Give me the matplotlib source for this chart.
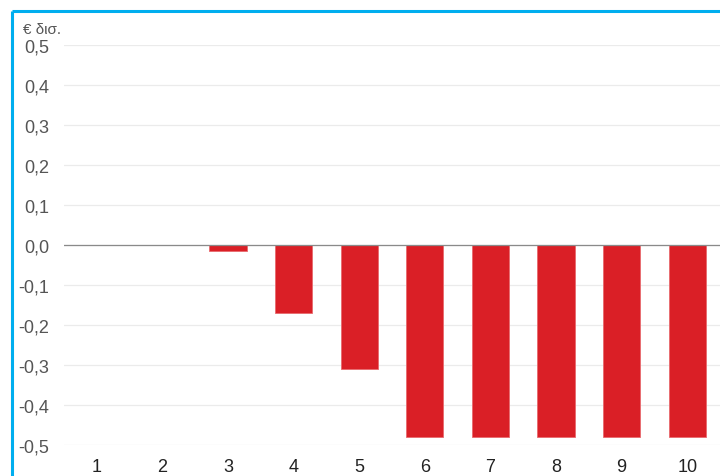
import matplotlib
matplotlib.use("Agg")
import matplotlib.pyplot as plt
from matplotlib.lines import Line2D

categories = ["1", "2", "3", "4", "5", "6", "7", "8", "9", "10"]
values = [0.0, 0.0, -0.015, -0.17, -0.31, -0.48, -0.48, -0.48, -0.48, -0.48]
yticks = [0.5, 0.4, 0.3, 0.2, 0.1, 0.0, -0.1, -0.2, -0.3, -0.4, -0.5]
ylabel = "€ δισ."

plt.rcParams['font.family'] = ['Liberation Sans', 'DejaVu Sans']

fig = plt.figure(figsize=(7.2, 4.77), dpi=100)
ax = fig.add_axes([64/720, 1 - 446/477, 1 - 64/720, 400/477])

x = list(range(len(categories)))
ax.bar(x, values, width=0.57, color="#DA1F26", edgecolor="#E86A6E", linewidth=0.6, zorder=3)

ax.set_xlim(-0.5, len(categories) - 0.5)
ax.set_ylim(-0.5, 0.5)
ax.set_yticks(yticks)
ax.set_yticklabels([("%.1f" % v).replace(".", ",") for v in yticks])
ax.set_xticks(x)
ax.set_xticklabels(categories)
ax.grid(axis="y", color="#ebebeb", linewidth=0.9, zorder=0)
ax.axhline(0, color="#8a8a8a", linewidth=0.9, zorder=4)
for s in ax.spines.values():
    s.set_visible(False)
ax.tick_params(axis="y", length=0, pad=10.5, labelsize=13, labelcolor="#555555")
ax.tick_params(axis="x", length=0, pad=9.5, labelsize=13, labelcolor="#222222")

fig.text(23/720, 1 - 30/477, ylabel, fontsize=11, color="#555555", ha="left", va="center")

fig.add_artist(Line2D([12/720, 12/720], [0, 1 - 12/477], transform=fig.transFigure,
                      color="#00AEEF", linewidth=2.2, solid_capstyle="butt"))
fig.add_artist(Line2D([12/720, 1], [1 - 12/477, 1 - 12/477], transform=fig.transFigure,
                      color="#00AEEF", linewidth=2.2, solid_capstyle="butt"))

fig.savefig("out.png", dpi=100)
